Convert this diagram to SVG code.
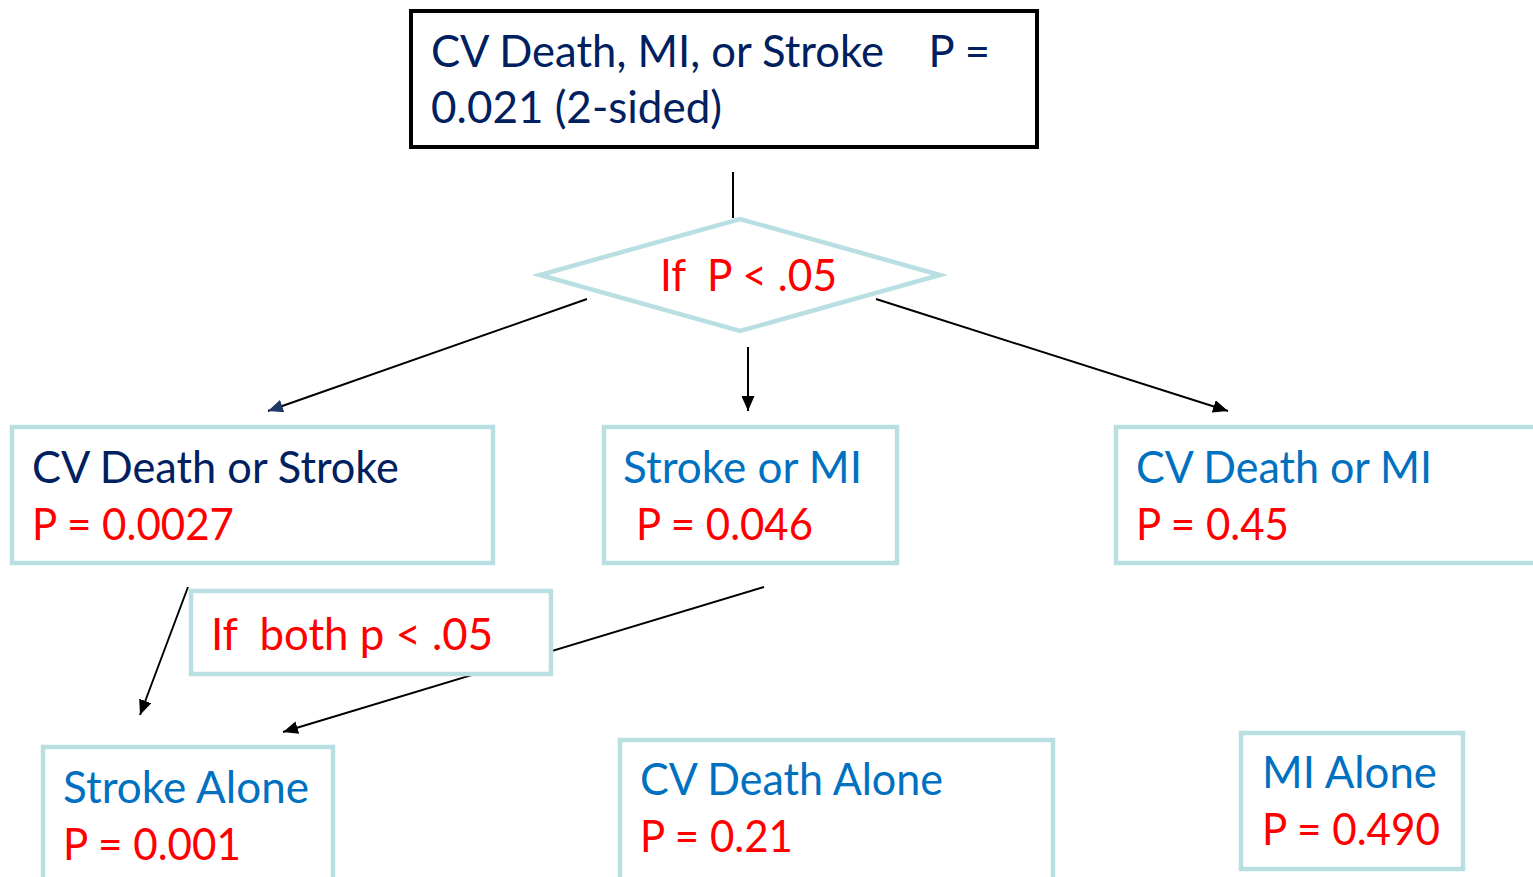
<svg xmlns="http://www.w3.org/2000/svg" width="1533" height="877" viewBox="0 0 1533 877">
<style>
  .t { font-family: Lato, "Open Sans", "Liberation Sans", sans-serif; font-size: 44px; }
  .navy { fill: #002060; }
  .blue { fill: #0070C0; }
  .red { fill: #FF0000; }
  .box { fill: #FFFFFF; stroke: #B9DFE3; stroke-width: 4.5; }
  .line { fill: none; stroke: #000000; stroke-width: 2; }
</style>
<defs>
  <marker id="ah" viewBox="0 0 15 13" refX="15" refY="6.5" markerWidth="15" markerHeight="13" markerUnits="userSpaceOnUse" orient="auto">
    <path d="M0,0 L15,6.5 L0,13 Z" fill="#000000"/>
  </marker>
  <marker id="ahn" viewBox="0 0 15 13" refX="15" refY="6.5" markerWidth="15" markerHeight="13" markerUnits="userSpaceOnUse" orient="auto">
    <path d="M0,0 L15,6.5 L0,13 Z" fill="#1F3864"/>
  </marker>
</defs>
<rect width="1533" height="877" fill="#FFFFFF"/>
<g id="connectors">
  <line class="line" x1="733" y1="172" x2="733" y2="218" stroke-width="2.5"/>
  <line class="line" x1="587" y1="299" x2="268" y2="411" stroke="#1F3864" stroke-width="1.8" marker-end="url(#ahn)"/>
  <line class="line" x1="748" y1="347" x2="748" y2="411" marker-end="url(#ah)"/>
  <line class="line" x1="876" y1="299" x2="1228" y2="411" marker-end="url(#ah)"/>
  <line class="line" x1="188" y1="587" x2="140" y2="715" marker-end="url(#ah)"/>
  <line class="line" x1="764" y1="587" x2="283" y2="732" marker-end="url(#ah)"/>
</g>
<g id="top">
  <rect x="411" y="11" width="626" height="136" fill="#FFFFFF" stroke="#000000" stroke-width="4"/>
  <text class="t navy" x="431" y="67" textLength="559" lengthAdjust="spacingAndGlyphs" xml:space="preserve">CV Death, MI, or Stroke    P =</text>
  <text class="t navy" x="431" y="123" textLength="291" lengthAdjust="spacingAndGlyphs">0.021 (2-sided)</text>
</g>
<g id="decision1">
  <polygon class="box" points="540,275 740,219 940,275 740,331"/>
  <text class="t red" x="660" y="291" textLength="177" lengthAdjust="spacingAndGlyphs" xml:space="preserve">If  P &lt; .05</text>
</g>
<g id="cvdeath-stroke">
  <rect class="box" x="12" y="427" width="481" height="136"/>
  <text class="t navy" x="32" y="483" textLength="367" lengthAdjust="spacingAndGlyphs">CV Death or Stroke</text>
  <text class="t red" x="32" y="540" textLength="202" lengthAdjust="spacingAndGlyphs">P = 0.0027</text>
</g>
<g id="stroke-mi">
  <rect class="box" x="604" y="427" width="293" height="136"/>
  <text class="t blue" x="623" y="483" textLength="239" lengthAdjust="spacingAndGlyphs">Stroke or MI</text>
  <text class="t red" x="636" y="540" textLength="177" lengthAdjust="spacingAndGlyphs">P = 0.046</text>
</g>
<g id="cvdeath-mi">
  <rect class="box" x="1116" y="427" width="430" height="136"/>
  <text class="t blue" x="1136" y="483" textLength="296" lengthAdjust="spacingAndGlyphs">CV Death or MI</text>
  <text class="t red" x="1136" y="540" textLength="153" lengthAdjust="spacingAndGlyphs">P = 0.45</text>
</g>
<g id="decision2">
  <rect class="box" x="191" y="591" width="360" height="83"/>
  <text class="t red" x="211" y="650" textLength="282" lengthAdjust="spacingAndGlyphs" xml:space="preserve">If  both p &lt; .05</text>
</g>
<g id="stroke-alone">
  <rect class="box" x="43" y="747" width="290" height="140"/>
  <text class="t blue" x="63" y="803" textLength="246" lengthAdjust="spacingAndGlyphs">Stroke Alone</text>
  <text class="t red" x="63" y="860" textLength="178" lengthAdjust="spacingAndGlyphs">P = 0.001</text>
</g>
<g id="cvdeath-alone">
  <rect class="box" x="620" y="740" width="433" height="140"/>
  <text class="t blue" x="640" y="795" textLength="303" lengthAdjust="spacingAndGlyphs">CV Death Alone</text>
  <text class="t red" x="640" y="852" textLength="153" lengthAdjust="spacingAndGlyphs">P = 0.21</text>
</g>
<g id="mi-alone">
  <rect class="box" x="1241" y="733" width="222" height="136"/>
  <text class="t blue" x="1262" y="788" textLength="175" lengthAdjust="spacingAndGlyphs">MI Alone</text>
  <text class="t red" x="1262" y="845" textLength="178" lengthAdjust="spacingAndGlyphs">P = 0.490</text>
</g>
</svg>
